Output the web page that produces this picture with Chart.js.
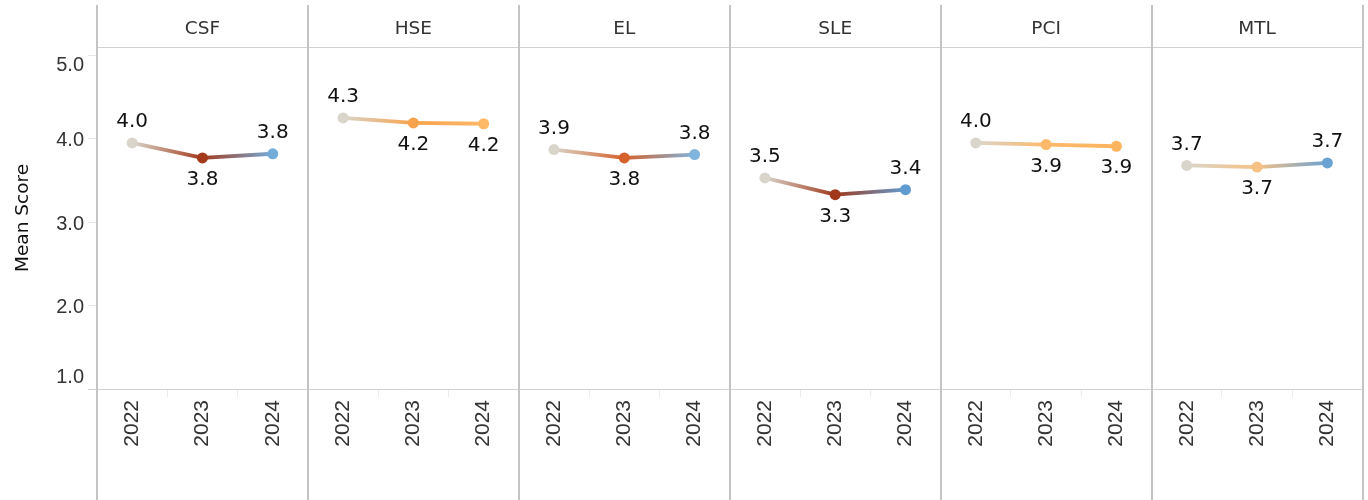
<!DOCTYPE html>
<html><head><meta charset="utf-8">
<script src="https://cdn.jsdelivr.net/npm/chart.js@4.4.1/dist/chart.umd.min.js"></script>
<style>html,body{margin:0;padding:0;background:#fff;}</style>
</head><body>
<canvas id="c" width="1368" height="500"></canvas>
<script>
// ---- data ----
const panels = ['CSF','HSE','EL','SLE','PCI','MTL'];
const years = ['2022','2023','2024'];
const csfScores = [3.95, 3.77, 3.82];
const hseScores = [4.25, 4.19, 4.18];
const elScores  = [3.87, 3.77, 3.81];
const sleScores = [3.53, 3.33, 3.39];
const pciScores = [3.95, 3.93, 3.91];
const mtlScores = [3.68, 3.66, 3.71];
const yTicks = [1, 2, 3, 4, 5];
const yTitle = 'Mean Score';

// ---- styles ----
const pointColors = [
  ['#d9d5ca', '#a33a1b', '#74acd9'],
  ['#d9d5ca', '#f7a24c', '#fdb868'],
  ['#d9d5ca', '#d5612b', '#80b4dc'],
  ['#d9d5ca', '#a0391c', '#5f9bd0'],
  ['#d9d5ca', '#fdb96a', '#fdb45f'],
  ['#d9d5ca', '#f6c185', '#6aa3d3']
];

const scoreSets = [csfScores, hseScores, elScores, sleScores, pciScores, mtlScores];
const allLabels = [];
panels.forEach(p => years.forEach(y => allLabels.push(p + '|' + y)));

const datasets = panels.map((p, pi) => ({
  label: p,
  data: years.map((y, yi) => ({ x: p + '|' + y, y: scoreSets[pi][yi] })),
  borderWidth: 3.8,
  pointRadius: 5.5,
  pointHoverRadius: 5.5,
  pointBorderWidth: 0,
  pointBackgroundColor: pointColors[pi],
  tension: 0,
  segment: {
    borderColor: ctx => {
      const g = ctx.chart.ctx.createLinearGradient(ctx.p0.x, ctx.p0.y, ctx.p1.x, ctx.p1.y);
      g.addColorStop(0, pointColors[pi][ctx.p0DataIndex]);
      g.addColorStop(1, pointColors[pi][ctx.p1DataIndex]);
      return g;
    }
  }
}));

const deco = {
  id: 'deco',
  beforeDatasetsDraw(chart) {
    const c = chart.ctx, a = chart.chartArea;
    const w = (a.right - a.left) / panels.length;
    c.save();
    c.strokeStyle = '#d2d2d2'; c.lineWidth = 1;
    c.beginPath(); c.moveTo(a.left, a.top + 0.5); c.lineTo(a.right, a.top + 0.5); c.stroke();
    c.beginPath(); c.moveTo(88, a.bottom + 0.5); c.lineTo(a.right, a.bottom + 0.5); c.stroke();
    c.strokeStyle = '#c4c4c4'; c.lineWidth = 2;
    for (let i = 0; i <= panels.length; i++) {
      const x = Math.round(a.left + i * w);
      c.beginPath(); c.moveTo(x, 5); c.lineTo(x, 500); c.stroke();
    }
    c.restore();
  },
  afterDatasetsDraw(chart) {
    const c = chart.ctx;
    c.save();
    c.font = '20px "DejaVu Sans"';
    c.fillStyle = '#111';
    c.textAlign = 'center'; c.textBaseline = 'middle';
    chart.data.datasets.forEach((ds, di) => {
      const meta = chart.getDatasetMeta(di);
      const vals = ds.data.map(d => d.y);
      meta.data.forEach((pt, i) => {
        const above = (i === 0) || (i === 2 && vals[2] > vals[1]);
        const txt = (Math.round(vals[i] * 10) / 10).toFixed(1);
        c.fillText(txt, pt.x, above ? pt.y - 21 : pt.y + 22);
      });
    });
    c.restore();
  },
  afterDraw(chart) {
    const c = chart.ctx, a = chart.chartArea;
    const w = (a.right - a.left) / panels.length;
    c.save();
    c.font = '18.5px "DejaVu Sans"';
    c.fillStyle = '#333';
    c.textAlign = 'center'; c.textBaseline = 'middle';
    panels.forEach((p, i) => c.fillText(p, a.left + (i + 0.5) * w, 29));
    const ys = chart.scales.y;
    c.font = '20px "Liberation Sans"';
    c.fillStyle = '#333';
    c.textAlign = 'right';
    yTicks.forEach(v => {
      let y = ys.getPixelForValue(v) + 2;
      y = Math.max(a.top + 18, Math.min(a.bottom - 12, y));
      c.fillText(v.toFixed(1), 84, y);
    });
    c.translate(23, (a.top + a.bottom) / 2);
    c.rotate(-Math.PI / 2);
    c.textAlign = 'center';
    c.font = '18.5px "DejaVu Sans"';
    c.fillStyle = '#111';
    c.fillText(yTitle, 0, 0);
    c.restore();
  }
};

new Chart(document.getElementById('c'), {
  type: 'line',
  data: { labels: allLabels, datasets },
  plugins: [deco],
  options: {
    responsive: false,
    animation: false,
    layout: { padding: { top: 47, right: 2, left: 0, bottom: 0 } },
    plugins: { legend: { display: false }, tooltip: { enabled: false } },
    scales: {
      x: {
        type: 'category',
        offset: true,
        grid: { display: true, drawOnChartArea: false, offset: true, tickLength: 8, color: '#ececec', lineWidth: 1 },
        border: { display: false },
        ticks: {
          autoSkip: false, maxRotation: 90, minRotation: 90, padding: 3,
          color: '#333', font: { family: 'Liberation Sans', size: 21 },
          callback: (v, i) => allLabels[i].split('|')[1]
        },
        afterFit: s => { s.height = 111; }
      },
      y: {
        min: 1, max: 5.1,
        afterBuildTicks: s => { s.ticks = yTicks.map(v => ({ value: v })); },
        grid: { drawOnChartArea: false, tickLength: 9, color: '#e6e6e6' },
        border: { display: false },
        ticks: { display: false },
        afterFit: s => { s.width = 97; }
      }
    }
  }
});
</script>
</body></html>
